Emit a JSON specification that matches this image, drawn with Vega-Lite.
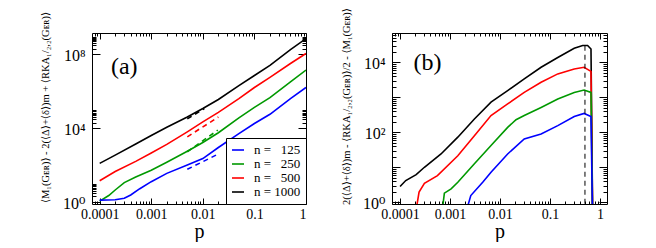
{
  "$schema": "https://vega.github.io/schema/vega-lite/v6.json",
  "padding": {"left": 39, "top": 7, "right": 0, "bottom": 0},
  "datasets": {
    "a": [
      {"n": "1000", "p": 0.0001, "v": 123},
      {"n": "1000", "p": 0.0002, "v": 347},
      {"n": "1000", "p": 0.0005, "v": 1380},
      {"n": "1000", "p": 0.001, "v": 3981},
      {"n": "1000", "p": 0.002, "v": 11220},
      {"n": "1000", "p": 0.005, "v": 39810},
      {"n": "1000", "p": 0.01, "v": 114800},
      {"n": "1000", "p": 0.02, "v": 354800},
      {"n": "1000", "p": 0.05, "v": 1995000},
      {"n": "1000", "p": 0.1, "v": 7079000},
      {"n": "1000", "p": 0.2, "v": 25120000},
      {"n": "1000", "p": 0.5, "v": 177800000},
      {"n": "1000", "p": 1, "v": 707900000},
      {"n": "500", "p": 0.0001, "v": 14.13},
      {"n": "500", "p": 0.0002, "v": 44.67},
      {"n": "500", "p": 0.0005, "v": 158.5},
      {"n": "500", "p": 0.001, "v": 446.7},
      {"n": "500", "p": 0.002, "v": 1318},
      {"n": "500", "p": 0.005, "v": 6310},
      {"n": "500", "p": 0.01, "v": 21880},
      {"n": "500", "p": 0.02, "v": 70790},
      {"n": "500", "p": 0.05, "v": 398100},
      {"n": "500", "p": 0.1, "v": 1585000},
      {"n": "500", "p": 0.2, "v": 5623000},
      {"n": "500", "p": 0.5, "v": 31620000},
      {"n": "500", "p": 1, "v": 109600000},
      {"n": "250", "p": 0.0001, "v": 1.122},
      {"n": "250", "p": 0.00015, "v": 2.239},
      {"n": "250", "p": 0.0002, "v": 4.467},
      {"n": "250", "p": 0.0003, "v": 11.22},
      {"n": "250", "p": 0.0005, "v": 22.39},
      {"n": "250", "p": 0.001, "v": 52.48},
      {"n": "250", "p": 0.002, "v": 141.3},
      {"n": "250", "p": 0.005, "v": 562.3},
      {"n": "250", "p": 0.01, "v": 1660},
      {"n": "250", "p": 0.02, "v": 5623},
      {"n": "250", "p": 0.05, "v": 35480},
      {"n": "250", "p": 0.1, "v": 131800},
      {"n": "250", "p": 0.2, "v": 446700},
      {"n": "250", "p": 0.5, "v": 3162000},
      {"n": "250", "p": 1, "v": 13800000},
      {"n": "125", "p": 0.0001, "v": 1.259},
      {"n": "125", "p": 0.0002, "v": 1.318},
      {"n": "125", "p": 0.0003, "v": 1.585},
      {"n": "125", "p": 0.0004, "v": 2.399},
      {"n": "125", "p": 0.0006, "v": 5.248},
      {"n": "125", "p": 0.001, "v": 12.59},
      {"n": "125", "p": 0.002, "v": 35.48},
      {"n": "125", "p": 0.005, "v": 100},
      {"n": "125", "p": 0.01, "v": 223.9},
      {"n": "125", "p": 0.02, "v": 891.3},
      {"n": "125", "p": 0.05, "v": 5012},
      {"n": "125", "p": 0.1, "v": 17780},
      {"n": "125", "p": 0.2, "v": 56230},
      {"n": "125", "p": 0.5, "v": 398100},
      {"n": "125", "p": 1, "v": 1585000}
    ],
    "ad": [
      {"n": "1000", "p": 0.005, "v": 31620},
      {"n": "1000", "p": 0.0107, "v": 114800},
      {"n": "500", "p": 0.005, "v": 3388},
      {"n": "500", "p": 0.02, "v": 39810},
      {"n": "250", "p": 0.005, "v": 524.8},
      {"n": "250", "p": 0.0195, "v": 7762},
      {"n": "125", "p": 0.005, "v": 58.88},
      {"n": "125", "p": 0.02, "v": 398.1}
    ],
    "b": [
      {"n": "1000", "p": 0.0001, "v": 2.818},
      {"n": "1000", "p": 0.00013, "v": 4.169},
      {"n": "1000", "p": 0.00021, "v": 6.166},
      {"n": "1000", "p": 0.000307, "v": 10},
      {"n": "1000", "p": 0.00066, "v": 23.99},
      {"n": "1000", "p": 0.00143, "v": 72.44},
      {"n": "1000", "p": 0.00307, "v": 239.9},
      {"n": "1000", "p": 0.0066, "v": 724.4},
      {"n": "1000", "p": 0.0142, "v": 1549},
      {"n": "1000", "p": 0.0305, "v": 3388},
      {"n": "1000", "p": 0.0663, "v": 7244},
      {"n": "1000", "p": 0.143, "v": 13800},
      {"n": "1000", "p": 0.305, "v": 25120},
      {"n": "1000", "p": 0.45, "v": 30200},
      {"n": "1000", "p": 0.565, "v": 30200},
      {"n": "1000", "p": 0.66, "v": 23990},
      {"n": "1000", "p": 0.72, "v": 0.1},
      {"n": "500", "p": 0.000205, "v": 0.5},
      {"n": "500", "p": 0.00024, "v": 1.95},
      {"n": "500", "p": 0.000307, "v": 3.467},
      {"n": "500", "p": 0.00056, "v": 5.754},
      {"n": "500", "p": 0.00143, "v": 21.38},
      {"n": "500", "p": 0.00307, "v": 79.43},
      {"n": "500", "p": 0.0066, "v": 302},
      {"n": "500", "p": 0.0142, "v": 645.7},
      {"n": "500", "p": 0.0305, "v": 1380},
      {"n": "500", "p": 0.0663, "v": 2692},
      {"n": "500", "p": 0.143, "v": 4677},
      {"n": "500", "p": 0.305, "v": 6457},
      {"n": "500", "p": 0.48, "v": 7244},
      {"n": "500", "p": 0.66, "v": 5495},
      {"n": "500", "p": 0.72, "v": 0.1},
      {"n": "250", "p": 0.00069, "v": 0.5},
      {"n": "250", "p": 0.00077, "v": 1.82},
      {"n": "250", "p": 0.00105, "v": 2.399},
      {"n": "250", "p": 0.00143, "v": 3.715},
      {"n": "250", "p": 0.00307, "v": 12.59},
      {"n": "250", "p": 0.0066, "v": 41.69},
      {"n": "250", "p": 0.0142, "v": 138},
      {"n": "250", "p": 0.0209, "v": 229.1},
      {"n": "250", "p": 0.0305, "v": 302},
      {"n": "250", "p": 0.0663, "v": 512.9},
      {"n": "250", "p": 0.143, "v": 891.3},
      {"n": "250", "p": 0.305, "v": 1380},
      {"n": "250", "p": 0.48, "v": 1622},
      {"n": "250", "p": 0.66, "v": 1380},
      {"n": "250", "p": 0.72, "v": 0.1},
      {"n": "125", "p": 0.00207, "v": 0.5},
      {"n": "125", "p": 0.0026, "v": 1.549},
      {"n": "125", "p": 0.0045, "v": 3.715},
      {"n": "125", "p": 0.0066, "v": 7.244},
      {"n": "125", "p": 0.0142, "v": 23.99},
      {"n": "125", "p": 0.0305, "v": 64.57},
      {"n": "125", "p": 0.0663, "v": 89.13},
      {"n": "125", "p": 0.143, "v": 154.9},
      {"n": "125", "p": 0.305, "v": 281.8},
      {"n": "125", "p": 0.48, "v": 346.7},
      {"n": "125", "p": 0.66, "v": 281.8},
      {"n": "125", "p": 0.72, "v": 0.1}
    ],
    "la": [{"p": 0.000165, "v": 20000000, "label": "(a)"}],
    "lb": [{"p": 0.000185, "v": 9800, "label": "(b)"}],
    "rb": [{"p": 0.5, "lo": 0.5, "hi": 37000}]
  },
  "hconcat": [
    {
      "width": 214,
      "height": 171,
      "layer": [
        {
          "data": {"name": "a"},
          "mark": {"type": "line", "clip": true, "strokeWidth": 1.6},
          "encoding": {
            "x": {"field": "p", "type": "quantitative", "scale": {"type": "log", "domain": [0.000071, 1]},
              "axis": {"orient": "bottom", "values": [0.0001, 0.001, 0.01, 0.1, 1], "labelExpr": "format(datum.value, '~g')", "ticks": false, "labelFontSize": 14, "labelPadding": 3, "title": "p", "titleFontSize": 20, "titlePadding": 0}},
            "y": {"field": "v", "type": "quantitative", "scale": {"type": "log", "domain": [0.78, 1410000000]},
              "axis": {"orient": "left", "values": [1, 10000, 100000000], "labelExpr": "'10' + (datum.value < 5 ? '⁰' : datum.value < 50000 ? '⁴' : '⁸')", "ticks": false, "labelFontSize": 16, "labelPadding": 7, "labelOffset": 1, "title": "⟨M₁(Gᴇʀ)⟩ - 2(⟨Δ⟩+⟨δ⟩)m + ⟨RKA₁/₂,₂(Gᴇʀ)⟩", "titleFontSize": 10.5, "titleX": -47, "titleY": 74, "titleBaseline": "middle"}},
            "color": {"field": "n", "type": "nominal", "scale": {"domain": ["125", "250", "500", "1000"], "range": ["#0000ff", "#009900", "#ff0000", "#000000"]},
              "legend": {"orient": "bottom-right", "offset": 0, "title": null, "symbolType": "stroke", "symbolSize": 144, "symbolStrokeWidth": 1.6, "labelFontSize": 13, "labelOffset": 9, "padding": 5, "rowPadding": 0, "strokeColor": "black", "fillColor": "white", "labelExpr": "'n = ' + (datum.label == '1000' ? '' : '\u2007') + datum.label"}}
          }
        },
        {
          "data": {"name": "ad"},
          "mark": {"type": "line", "clip": true, "strokeWidth": 1.6, "strokeDash": [5, 4]},
          "encoding": {
            "x": {"field": "p", "type": "quantitative", "scale": {"type": "log", "domain": [0.000071, 1]}, "axis": null},
            "y": {"field": "v", "type": "quantitative", "scale": {"type": "log", "domain": [0.78, 1410000000]}, "axis": null},
            "color": {"field": "n", "type": "nominal", "scale": {"domain": ["125", "250", "500", "1000"], "range": ["#0000ff", "#009900", "#ff0000", "#000000"]}}
          }
        },
        {
          "data": {"name": "la"},
          "mark": {"type": "text", "fontSize": 24, "align": "left", "baseline": "middle", "color": "black"},
          "encoding": {
            "x": {"field": "p", "type": "quantitative", "scale": {"type": "log", "domain": [0.000071, 1]},
              "axis": {"orient": "bottom", "values": [0.0001, 0.001, 0.01, 0.1, 1], "labels": false, "ticks": true, "tickSize": 6, "offset": -6, "title": null}},
            "y": {"field": "v", "type": "quantitative", "scale": {"type": "log", "domain": [0.78, 1410000000]},
              "axis": {"orient": "left", "values": [1, 10000, 100000000], "labels": false, "ticks": true, "tickSize": 8, "offset": -8, "title": null}},
            "text": {"field": "label"}
          }
        },
        {
          "data": {"name": "la"},
          "mark": {"type": "point", "opacity": 0},
          "encoding": {
            "x": {"field": "p", "type": "quantitative", "scale": {"type": "log", "domain": [0.000071, 1]},
              "axis": {"orient": "bottom", "values": [0.00008, 0.00009, 0.0002, 0.0003, 0.0004, 0.0005, 0.0006, 0.0007, 0.0008, 0.0009, 0.002, 0.003, 0.004, 0.005, 0.006, 0.007, 0.008, 0.009, 0.02, 0.03, 0.04, 0.05, 0.06, 0.07, 0.08, 0.09, 0.2, 0.3, 0.4, 0.5, 0.6, 0.7, 0.8, 0.9], "labels": false, "ticks": true, "tickSize": 3, "offset": -3, "title": null}},
            "y": {"field": "v", "type": "quantitative", "scale": {"type": "log", "domain": [0.78, 1410000000]},
              "axis": {"orient": "left", "values": [2, 3, 4, 5, 6, 7, 8, 9, 20000, 30000, 40000, 50000, 60000, 70000, 80000, 90000, 200000000, 300000000, 400000000, 500000000, 600000000, 700000000, 800000000, 900000000], "labels": false, "ticks": true, "tickSize": 4, "offset": -4, "title": null}}
          }
        },
        {
          "data": {"name": "la"},
          "mark": {"type": "point", "opacity": 0},
          "encoding": {
            "x": {"field": "p", "type": "quantitative", "scale": {"type": "log", "domain": [0.000071, 1]},
              "axis": {"orient": "top", "values": [0.0001, 0.001, 0.01, 0.1, 1], "labels": false, "ticks": true, "tickSize": 6, "offset": -6, "title": null}},
            "y": {"field": "v", "type": "quantitative", "scale": {"type": "log", "domain": [0.78, 1410000000]},
              "axis": {"orient": "right", "values": [1, 10000, 100000000], "labels": false, "ticks": true, "tickSize": 8, "offset": -8, "title": null}}
          }
        },
        {
          "data": {"name": "la"},
          "mark": {"type": "point", "opacity": 0},
          "encoding": {
            "x": {"field": "p", "type": "quantitative", "scale": {"type": "log", "domain": [0.000071, 1]},
              "axis": {"orient": "top", "values": [0.00008, 0.00009, 0.0002, 0.0003, 0.0004, 0.0005, 0.0006, 0.0007, 0.0008, 0.0009, 0.002, 0.003, 0.004, 0.005, 0.006, 0.007, 0.008, 0.009, 0.02, 0.03, 0.04, 0.05, 0.06, 0.07, 0.08, 0.09, 0.2, 0.3, 0.4, 0.5, 0.6, 0.7, 0.8, 0.9], "labels": false, "ticks": true, "tickSize": 3, "offset": -3, "title": null}},
            "y": {"field": "v", "type": "quantitative", "scale": {"type": "log", "domain": [0.78, 1410000000]},
              "axis": {"orient": "right", "values": [2, 3, 4, 5, 6, 7, 8, 9, 20000, 30000, 40000, 50000, 60000, 70000, 80000, 90000, 200000000, 300000000, 400000000, 500000000, 600000000, 700000000, 800000000, 900000000], "labels": false, "ticks": true, "tickSize": 4, "offset": -4, "title": null}}
          }
        }
      ],
      "resolve": {"scale": {"x": "independent", "y": "independent"}, "axis": {"x": "independent", "y": "independent"}}
    },
    {
      "width": 215,
      "height": 171,
      "layer": [
        {
          "data": {"name": "b"},
          "mark": {"type": "line", "clip": true, "strokeWidth": 1.6},
          "encoding": {
            "x": {"field": "p", "type": "quantitative", "scale": {"type": "log", "domain": [0.000069, 1.38]},
              "axis": {"orient": "bottom", "values": [0.0001, 0.001, 0.01, 0.1, 1], "labelExpr": "format(datum.value, '~g')", "ticks": false, "labelFontSize": 14, "labelPadding": 3, "title": "p", "titleFontSize": 20, "titlePadding": 0}},
            "y": {"field": "v", "type": "quantitative", "scale": {"type": "log", "domain": [0.89, 69000]},
              "axis": {"orient": "left", "values": [1, 100, 10000], "labelExpr": "'10' + (datum.value < 5 ? '⁰' : datum.value < 500 ? '²' : '⁴')", "ticks": false, "labelFontSize": 16, "labelPadding": 7, "labelOffset": 1, "title": "2(⟨Δ⟩+⟨δ⟩)m - ⟨RKA₁/₂,₂(Gᴇʀ)⟩/2 - ⟨M₁(Gᴇʀ)⟩", "titleFontSize": 10.5, "titleX": -46, "titleY": 73, "titleBaseline": "middle"}},
            "color": {"field": "n", "type": "nominal", "scale": {"domain": ["125", "250", "500", "1000"], "range": ["#0000ff", "#009900", "#ff0000", "#000000"]}, "legend": null}
          }
        },
        {
          "data": {"name": "rb"},
          "mark": {"type": "rule", "clip": true, "strokeWidth": 1, "strokeDash": [5, 4], "color": "black"},
          "encoding": {
            "x": {"field": "p", "type": "quantitative", "scale": {"type": "log", "domain": [0.000069, 1.38]}, "axis": null},
            "y": {"field": "lo", "type": "quantitative", "scale": {"type": "log", "domain": [0.89, 69000]}, "axis": null},
            "y2": {"field": "hi"}
          }
        },
        {
          "data": {"name": "lb"},
          "mark": {"type": "text", "fontSize": 24, "align": "left", "baseline": "middle", "color": "black"},
          "encoding": {
            "x": {"field": "p", "type": "quantitative", "scale": {"type": "log", "domain": [0.000069, 1.38]},
              "axis": {"orient": "bottom", "values": [0.0001, 0.001, 0.01, 0.1, 1], "labels": false, "ticks": true, "tickSize": 6, "offset": -6, "title": null}},
            "y": {"field": "v", "type": "quantitative", "scale": {"type": "log", "domain": [0.89, 69000]},
              "axis": {"orient": "left", "values": [1, 10, 100, 1000, 10000], "labels": false, "ticks": true, "tickSize": 8, "offset": -8, "title": null}},
            "text": {"field": "label"}
          }
        },
        {
          "data": {"name": "lb"},
          "mark": {"type": "point", "opacity": 0},
          "encoding": {
            "x": {"field": "p", "type": "quantitative", "scale": {"type": "log", "domain": [0.000069, 1.38]},
              "axis": {"orient": "bottom", "values": [0.00007, 0.00008, 0.00009, 0.0002, 0.0003, 0.0004, 0.0005, 0.0006, 0.0007, 0.0008, 0.0009, 0.002, 0.003, 0.004, 0.005, 0.006, 0.007, 0.008, 0.009, 0.02, 0.03, 0.04, 0.05, 0.06, 0.07, 0.08, 0.09, 0.2, 0.3, 0.4, 0.5, 0.6, 0.7, 0.8, 0.9], "labels": false, "ticks": true, "tickSize": 3, "offset": -3, "title": null}},
            "y": {"field": "v", "type": "quantitative", "scale": {"type": "log", "domain": [0.89, 69000]},
              "axis": {"orient": "left", "values": [2, 3, 4, 5, 6, 7, 8, 9, 20, 30, 40, 50, 60, 70, 80, 90, 200, 300, 400, 500, 600, 700, 800, 900, 2000, 3000, 4000, 5000, 6000, 7000, 8000, 9000, 20000, 30000, 40000, 50000, 60000], "labels": false, "ticks": true, "tickSize": 4, "offset": -4, "title": null}}
          }
        },
        {
          "data": {"name": "lb"},
          "mark": {"type": "point", "opacity": 0},
          "encoding": {
            "x": {"field": "p", "type": "quantitative", "scale": {"type": "log", "domain": [0.000069, 1.38]},
              "axis": {"orient": "top", "values": [0.0001, 0.001, 0.01, 0.1, 1], "labels": false, "ticks": true, "tickSize": 6, "offset": -6, "title": null}},
            "y": {"field": "v", "type": "quantitative", "scale": {"type": "log", "domain": [0.89, 69000]},
              "axis": {"orient": "right", "values": [1, 10, 100, 1000, 10000], "labels": false, "ticks": true, "tickSize": 8, "offset": -8, "title": null}}
          }
        },
        {
          "data": {"name": "lb"},
          "mark": {"type": "point", "opacity": 0},
          "encoding": {
            "x": {"field": "p", "type": "quantitative", "scale": {"type": "log", "domain": [0.000069, 1.38]},
              "axis": {"orient": "top", "values": [0.00007, 0.00008, 0.00009, 0.0002, 0.0003, 0.0004, 0.0005, 0.0006, 0.0007, 0.0008, 0.0009, 0.002, 0.003, 0.004, 0.005, 0.006, 0.007, 0.008, 0.009, 0.02, 0.03, 0.04, 0.05, 0.06, 0.07, 0.08, 0.09, 0.2, 0.3, 0.4, 0.5, 0.6, 0.7, 0.8, 0.9], "labels": false, "ticks": true, "tickSize": 3, "offset": -3, "title": null}},
            "y": {"field": "v", "type": "quantitative", "scale": {"type": "log", "domain": [0.89, 69000]},
              "axis": {"orient": "right", "values": [2, 3, 4, 5, 6, 7, 8, 9, 20, 30, 40, 50, 60, 70, 80, 90, 200, 300, 400, 500, 600, 700, 800, 900, 2000, 3000, 4000, 5000, 6000, 7000, 8000, 9000, 20000, 30000, 40000, 50000, 60000], "labels": false, "ticks": true, "tickSize": 4, "offset": -4, "title": null}}
          }
        }
      ],
      "resolve": {"scale": {"x": "independent", "y": "independent"}, "axis": {"x": "independent", "y": "independent"}}
    }
  ],
  "spacing": 86,
  "bounds": "flush",
  "resolve": {"scale": {"color": "independent"}},
  "config": {
    "font": "Liberation Serif, DejaVu Serif, serif",
    "background": "white",
    "view": {"stroke": "black", "strokeWidth": 1},
    "axis": {"domain": false, "grid": false, "tickColor": "black", "tickWidth": 1, "labelColor": "black", "titleColor": "black", "titleFontWeight": "normal", "labelFont": "Liberation Serif, DejaVu Serif, serif", "titleFont": "Liberation Serif, DejaVu Serif, serif"},
    "legend": {"labelColor": "black", "labelFont": "Liberation Serif, DejaVu Serif, serif"},
    "text": {"font": "Liberation Serif, DejaVu Serif, serif"}
  }
}
